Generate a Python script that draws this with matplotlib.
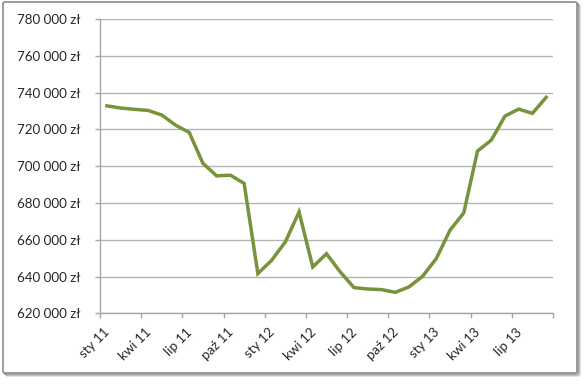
import matplotlib
matplotlib.use("Agg")
import matplotlib.pyplot as plt
import matplotlib.transforms as mtransforms
from matplotlib.patches import FancyBboxPatch
from matplotlib.ticker import FuncFormatter, FixedLocator

values = [732.8, 731.6, 730.9, 730.3, 727.8, 722.3, 718.3, 701.5, 694.7, 695.1,
          690.6, 641.6, 648.8, 658.8, 675.1, 645.2, 652.4, 642.5, 634.0, 633.2,
          632.9, 631.4, 634.3, 640.1, 649.8, 665.2, 674.6, 708.2, 714.1, 727.2,
          731.0, 728.7, 737.4]
values = [v * 1000 for v in values]
tick_labels = ["sty 11", "kwi 11", "lip 11", "paź 11", "sty 12", "kwi 12",
               "lip 12", "paź 12", "sty 13", "kwi 13", "lip 13"]
yticks = [620000, 640000, 660000, 680000, 700000, 720000, 740000, 760000, 780000]

FONT = "Lato"
W, H = 585, 384
fig = plt.figure(figsize=(W / 100, H / 100), dpi=100)
fig.patch.set_facecolor("white")

def fmt(v, p=None):
    return f"{int(v):,}".replace(",", " ") + " zł"

# choose font size so that the y labels have the reference width (~63 px)
renderer = fig.canvas.get_renderer()
probe = fig.text(0, 0, fmt(780000), fontsize=10, family=FONT)
wpx = probe.get_window_extent(renderer).width
probe.remove()
FS = 10 * 63.0 / wpx

# shadowed border
for k, a in enumerate([0.10, 0.16, 0.22]):
    off = 3 - k
    sh = FancyBboxPatch(((3 + off) / W, 1 - (373 + off) / H), (574) / W, (371) / H,
                        boxstyle="round,pad=0,rounding_size=0.004",
                        transform=fig.transFigure, facecolor="none",
                        edgecolor=(0, 0, 0, a), linewidth=1.5, zorder=0)
    fig.patches.append(sh)
border = FancyBboxPatch((3 / W, 1 - 373 / H), 574 / W, 371 / H,
                        boxstyle="round,pad=0,rounding_size=0.004",
                        transform=fig.transFigure, facecolor="white",
                        edgecolor="#8c8c8c", linewidth=1.2, zorder=1)
fig.patches.append(border)

ax = fig.add_axes([100 / W, 1 - 313.3 / H, 453 / W, 294.3 / H])
ax.set_zorder(5)
ax.set_facecolor("none")
x = list(range(len(values)))
ax.plot(x, values, color="#77933C", linewidth=2.5, solid_joinstyle="miter", zorder=3)

ax.set_xlim(-0.5, len(values) - 0.5)
ax.set_ylim(620000, 780000)
ax.set_yticks(yticks)
ax.yaxis.set_major_formatter(FuncFormatter(fmt))
ax.grid(axis="y", color="#b3b3b3", linewidth=1.0)
ax.set_axisbelow(True)

ax.xaxis.set_major_locator(FixedLocator([i - 0.5 for i in range(0, len(values) + 1, 3)]))
ax.xaxis.set_major_formatter(FuncFormatter(lambda v, p: ""))
ax.tick_params(axis="x", which="major", length=3.6, color="#a6a6a6", width=1)
ax.tick_params(axis="y", length=3.6, color="#a6a6a6", width=1, pad=10.5,
               labelsize=FS, labelcolor="#262626")
for lab in ax.get_yticklabels():
    lab.set_family(FONT)

trans = mtransforms.offset_copy(ax.get_xaxis_transform(), fig=fig, x=1, y=-17, units="dots")
for pos, lab in zip(range(0, len(values), 3), tick_labels):
    ax.text(pos, 0, lab, transform=trans, rotation=45, rotation_mode="anchor",
            ha="right", va="center", fontsize=FS, color="#262626", family=FONT,
            clip_on=False)

for s in ["top", "right"]:
    ax.spines[s].set_visible(False)
for s in ["left", "bottom"]:
    ax.spines[s].set_color("#a6a6a6")
    ax.spines[s].set_linewidth(1)

fig.savefig("out.png", dpi=100, facecolor="white")
